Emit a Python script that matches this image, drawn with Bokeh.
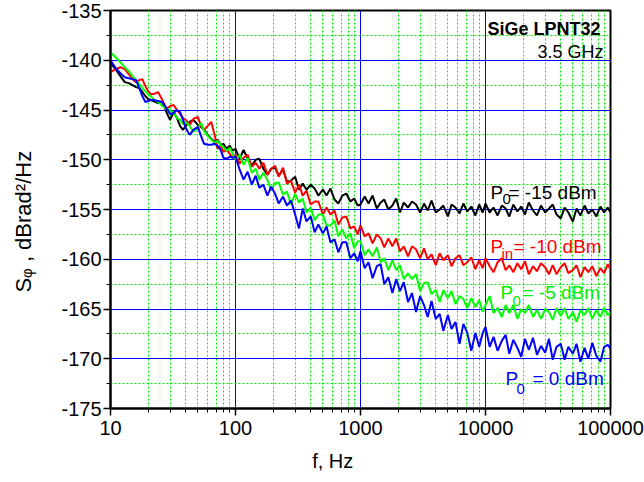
import math
from bokeh.plotting import figure
from bokeh.models import Range1d, FixedTicker, NumeralTickFormatter, PrintfTickFormatter, Label
from bokeh.embed import file_html
from bokeh.resources import INLINE

# ---------------- data ----------------
FREQ = [
    10, 11, 12, 13, 14, 15, 16, 17, 18, 19, 20, 21, 22, 24, 26, 28, 30, 32, 34, 36, 38, 40,
    43, 46, 50, 53, 56, 60, 64, 68, 72, 76, 80, 85, 90, 95,
    100, 108, 116, 125, 135, 145, 155, 167, 180, 193, 207, 222, 240, 258, 278, 300,
    322, 345, 370, 400, 430, 460, 500, 535, 575, 620, 665, 715, 770, 830, 890, 950,
    1000, 1080, 1160, 1250, 1350, 1450, 1550, 1670, 1800, 1930, 2070, 2220, 2400, 2580, 2780, 3000,
    3220, 3450, 3700, 4000, 4300, 4600, 5000, 5350, 5750, 6200, 6650, 7150, 7700, 8300, 8900, 9500,
    10000, 10800, 11600, 12500, 13500, 14500, 15500, 16700, 18000, 19300, 20700, 22200, 24000, 25800, 27800, 30000,
    32200, 34500, 37000, 40000, 43000, 46000, 50000, 53500, 57500, 62000, 66500, 71500, 77000, 83000, 89000, 95000,
    100000,
]

P0_M15 = [  # black, P0 = -15 dBm
    -140.3, -140.9, -141.6, -142.2, -142.3, -142.5, -142.7, -142.8, -143.2, -143.6, -143.9, -144.0,
    -144.1, -144.3, -144.2, -145.2, -146.0, -145.2, -145.8, -146.6, -147.0, -146.6,
    -146.2, -146.0, -146.5, -146.7, -147.0, -147.5, -147.9, -148.2, -148.0, -148.5, -148.4, -148.9, -148.6, -149.1,
    -148.9, -149.9, -149.0, -149.9, -150.6, -150.0, -149.9, -150.9, -151.5, -150.9, -150.8, -151.6, -151.0, -152.2, -152.1, -151.7,
    -153.0, -152.4, -153.0, -152.5, -152.9, -153.6, -153.0, -153.6, -152.9, -154.0, -154.4, -153.6, -153.4, -154.2, -153.9, -154.6,
    -154.5, -153.7, -154.4, -153.6, -154.9, -154.3, -154.0, -155.0, -154.6, -153.9, -155.3, -154.3, -154.8, -154.2, -154.5, -155.3,
    -154.4, -155.1, -154.1, -155.3, -155.0, -154.6, -155.7, -154.5, -154.8, -155.4, -154.4, -155.2, -154.7, -155.6, -154.5, -155.3,
    -154.4, -155.3, -154.8, -155.6, -154.6, -154.9, -155.7, -154.5, -155.2, -154.7, -155.5, -154.3, -155.1, -155.6, -154.6, -155.3,
    -154.9, -154.5, -155.5, -155.9, -154.8, -155.3, -156.2, -154.9, -155.6, -154.6, -155.4, -155.0, -155.7, -154.7, -155.3, -154.8,
    -155.3,
]

PIN_M10 = [  # red, Pin = -10 dBm
    -141.2, -140.9, -140.7, -140.9, -141.4, -141.9, -142.2, -142.0, -141.9, -142.6, -143.1, -143.4,
    -143.4, -143.2, -144.0, -144.9, -144.6, -144.5, -145.0, -145.4, -145.8, -146.0,
    -146.5, -145.9, -145.7, -146.6, -147.0, -146.6, -146.2, -147.5, -148.9, -148.6, -149.2, -149.0, -149.4, -149.8,
    -149.5, -150.4, -149.8, -149.5, -150.7, -150.3, -150.9, -150.3, -151.5, -150.9, -150.6, -151.7, -150.8, -152.4, -152.1, -153.3,
    -152.5, -153.6, -153.1, -154.5, -154.2, -154.2, -155.5, -154.8, -155.5, -155.1, -156.5, -155.8, -155.7, -156.9, -156.7, -157.5,
    -156.6, -157.7, -157.4, -158.4, -157.5, -157.9, -158.8, -157.9, -158.7, -157.9, -159.2, -158.7, -159.7, -158.7, -159.0, -159.9,
    -158.9, -160.0, -159.5, -160.6, -159.4, -160.1, -159.6, -160.7, -159.9, -159.6, -160.6, -160.3, -159.8, -161.0, -160.1, -160.9,
    -159.9, -160.7, -161.3, -160.3, -159.9, -161.1, -160.6, -161.3, -160.4, -161.0, -160.2, -161.5, -160.7, -161.2, -160.4, -160.8,
    -161.5, -160.6, -161.5, -160.8, -160.4, -161.4, -161.1, -160.6, -161.8, -160.8, -161.3, -160.7, -161.7, -160.9, -161.4, -160.5,
    -161.0,
]

P0_M5 = [  # green, P0 = -5 dBm
    -139.2, -139.7, -140.2, -140.7, -141.1, -141.6, -142.0, -142.4, -142.8, -143.1, -143.4, -143.6,
    -143.9, -144.2, -144.6, -144.9, -145.0, -145.3, -145.8, -146.0, -146.4, -146.2,
    -146.6, -147.2, -146.8, -146.3, -147.1, -147.6, -148.0, -148.3, -148.1, -148.5, -148.7, -149.1, -148.8, -149.4,
    -150.0, -149.5, -150.5, -149.8, -151.3, -150.9, -152.0, -151.3, -152.0, -153.1, -152.3, -152.3, -153.5, -153.2, -154.5, -153.4,
    -154.3, -153.9, -155.3, -154.8, -156.1, -155.5, -155.5, -156.6, -156.6, -156.1, -157.7, -157.0, -157.9, -157.4, -158.9, -158.2,
    -158.2, -159.6, -159.0, -159.7, -158.8, -160.3, -159.9, -161.1, -160.1, -161.1, -160.6, -162.0, -161.4, -162.0, -161.5, -163.2,
    -162.4, -162.3, -163.5, -163.1, -164.3, -163.1, -163.9, -163.2, -164.5, -163.7, -164.0, -164.9, -163.9, -164.8, -164.1, -165.3,
    -164.6, -163.7, -165.4, -164.9, -165.8, -164.6, -165.4, -164.6, -166.0, -165.0, -165.4, -164.6, -165.8, -165.1, -166.0, -165.0,
    -165.3, -166.1, -164.9, -165.7, -164.9, -166.0, -165.3, -166.3, -165.1, -165.6, -164.9, -166.0, -165.1, -165.8, -164.9, -165.6,
    -165.3,
]

P0_0 = [  # blue, P0 = 0 dBm
    -140.0, -140.8, -141.3, -141.7, -141.8, -141.9, -142.0, -142.8, -143.6, -144.2, -144.1, -144.0,
    -144.0, -144.1, -144.2, -144.8, -145.4, -145.3, -145.0, -145.2, -146.0, -146.8,
    -147.5, -147.0, -146.7, -147.6, -148.4, -148.5, -148.5, -148.4, -148.6, -149.0, -149.8, -149.9, -149.7, -149.8,
    -149.7, -151.0, -152.0, -151.2, -152.5, -151.6, -152.8, -152.5, -153.6, -152.7, -153.4, -154.4, -153.7, -154.6, -154.1, -155.5,
    -156.9, -154.9, -156.2, -155.7, -157.3, -156.5, -157.4, -156.7, -158.3, -158.0, -159.3, -158.3, -158.3, -159.9, -159.4, -160.2,
    -159.2, -160.9, -160.3, -161.9, -160.7, -160.5, -162.5, -161.8, -163.4, -162.0, -163.2, -162.3, -164.3, -163.4, -165.3, -163.7,
    -164.6, -165.8, -164.2, -166.0, -165.5, -167.2, -165.6, -167.0, -166.3, -168.5, -166.5, -167.4, -169.2, -167.4, -168.8, -167.4,
    -166.8, -168.8, -167.8, -169.2, -168.2, -167.6, -169.5, -168.1, -168.9, -169.8, -168.0, -169.1, -167.9, -169.6, -168.7, -169.4,
    -168.0, -170.1, -168.8, -168.5, -170.1, -168.8, -169.5, -168.5, -170.3, -168.9, -170.0, -168.4, -169.7, -170.3, -168.8, -168.6,
    -169.0,
]

X_MAJOR = [10, 100, 1000, 10000, 100000]
X_MINOR = [m * d for d in [10, 100, 1000, 10000] for m in range(2, 10)]
Y_MAJOR = [-175, -170, -165, -160, -155, -150, -145, -140, -135]
Y_MINOR = [-172.5, -167.5, -162.5, -157.5, -152.5, -147.5, -142.5, -137.5]

for s in (P0_M15, PIN_M10, P0_M5, P0_0):
    assert len(s) == len(FREQ), (len(s), len(FREQ))

FONT = "Liberation Sans"
GREEN = "#00ee00"
NB = "\u00a0"

p = figure(x_axis_type="log", x_range=Range1d(10, 100000), y_range=Range1d(-175, -135),
           frame_width=500, frame_height=398,
           min_border_left=110, min_border_right=34, min_border_top=10, min_border_bottom=72,
           output_backend="svg", toolbar_location=None,
           background_fill_color="white", border_fill_color="white")

p.outline_line_color = "black"
p.outline_line_width = 2

p.xaxis.ticker = FixedTicker(ticks=X_MAJOR, minor_ticks=X_MINOR)
p.yaxis.ticker = FixedTicker(ticks=Y_MAJOR, minor_ticks=Y_MINOR)
p.xaxis.formatter = NumeralTickFormatter(format="0")
p.yaxis.formatter = PrintfTickFormatter(format="%d")
p.yaxis.major_label_overrides = {v: str(v) for v in Y_MAJOR}

for ax in (p.xaxis, p.yaxis):
    ax.axis_line_color = "black"
    ax.axis_line_width = 2
    ax.major_tick_line_color = "black"
    ax.major_tick_line_width = 1.5
    ax.minor_tick_line_color = "black"
    ax.minor_tick_line_width = 1
    ax.major_tick_in = 0
    ax.major_tick_out = 7
    ax.minor_tick_in = 0
    ax.minor_tick_out = 4
    ax.major_label_text_font = FONT
    ax.major_label_text_font_size = "20px"
    ax.major_label_text_color = "black"
    ax.axis_label_text_font = FONT
    ax.axis_label_text_font_style = "normal"
    ax.axis_label_text_color = "black"
p.xaxis.major_label_standoff = 5
p.yaxis.major_label_standoff = 2

# axis titles (trailing no-break spaces shift them as in the original)
p.yaxis.axis_label = "S\u1d69 , dBrad\u00b2/Hz" + NB * 4
p.yaxis.axis_label_text_font_size = "22px"
p.yaxis.axis_label_standoff = 22
p.xaxis.axis_label = "f, Hz" + NB * 10
p.xaxis.axis_label_text_font_size = "20px"
p.xaxis.axis_label_standoff = 12

for g in (p.xgrid, p.ygrid):
    g.grid_line_color = "#0000ff"
    g.grid_line_width = 1
    g.minor_grid_line_color = GREEN
    g.minor_grid_line_width = 1
    g.minor_grid_line_dash = "2 2"

p.line(FREQ, P0_M15, line_color="black", line_width=2)
p.line(FREQ, PIN_M10, line_color="#ff0000", line_width=2)
p.line(FREQ, P0_M5, line_color="#00ff00", line_width=2)
p.line(FREQ, P0_0, line_color="#0000ff", line_width=2)


def txt(px, py, text, size, color="black", bold=False, align="left"):
    # px, py: pixel position of the text anchor (baseline), relative to the picture
    p.add_layout(Label(x=10, y=-175, x_offset=px - 110, y_offset=408 - py, text=text,
                       text_font=FONT, text_font_size=f"{size}px", text_color=color,
                       text_font_style="bold" if bold else "normal",
                       text_align=align, text_baseline="alphabetic"))


txt(600, 28, "SiGe LPNT32", 18, bold=True, align="right")
txt(603, 51, "3.5 GHz", 18, align="right")

txt(490, 192, "P", 19)
txt(502, 198, "0", 15)
txt(508, 192, "= -15 dBm", 19)

txt(490, 246, "P", 19, "#ff0000")
txt(501, 253, "in", 15, "#ff0000")
txt(513, 246, "= -10 dBm", 19, "#ff0000")

txt(500, 292, "P", 19, GREEN)
txt(512, 300, "0", 15, GREEN)
txt(522, 292, "= -5 dBm", 19, GREEN)

txt(505, 378, "P", 19, "#0000ff")
txt(516, 388, "0", 15, "#0000ff")
txt(532, 378, "= 0 dBm", 19, "#0000ff")

open("out.html", "w").write(file_html(p, INLINE))
